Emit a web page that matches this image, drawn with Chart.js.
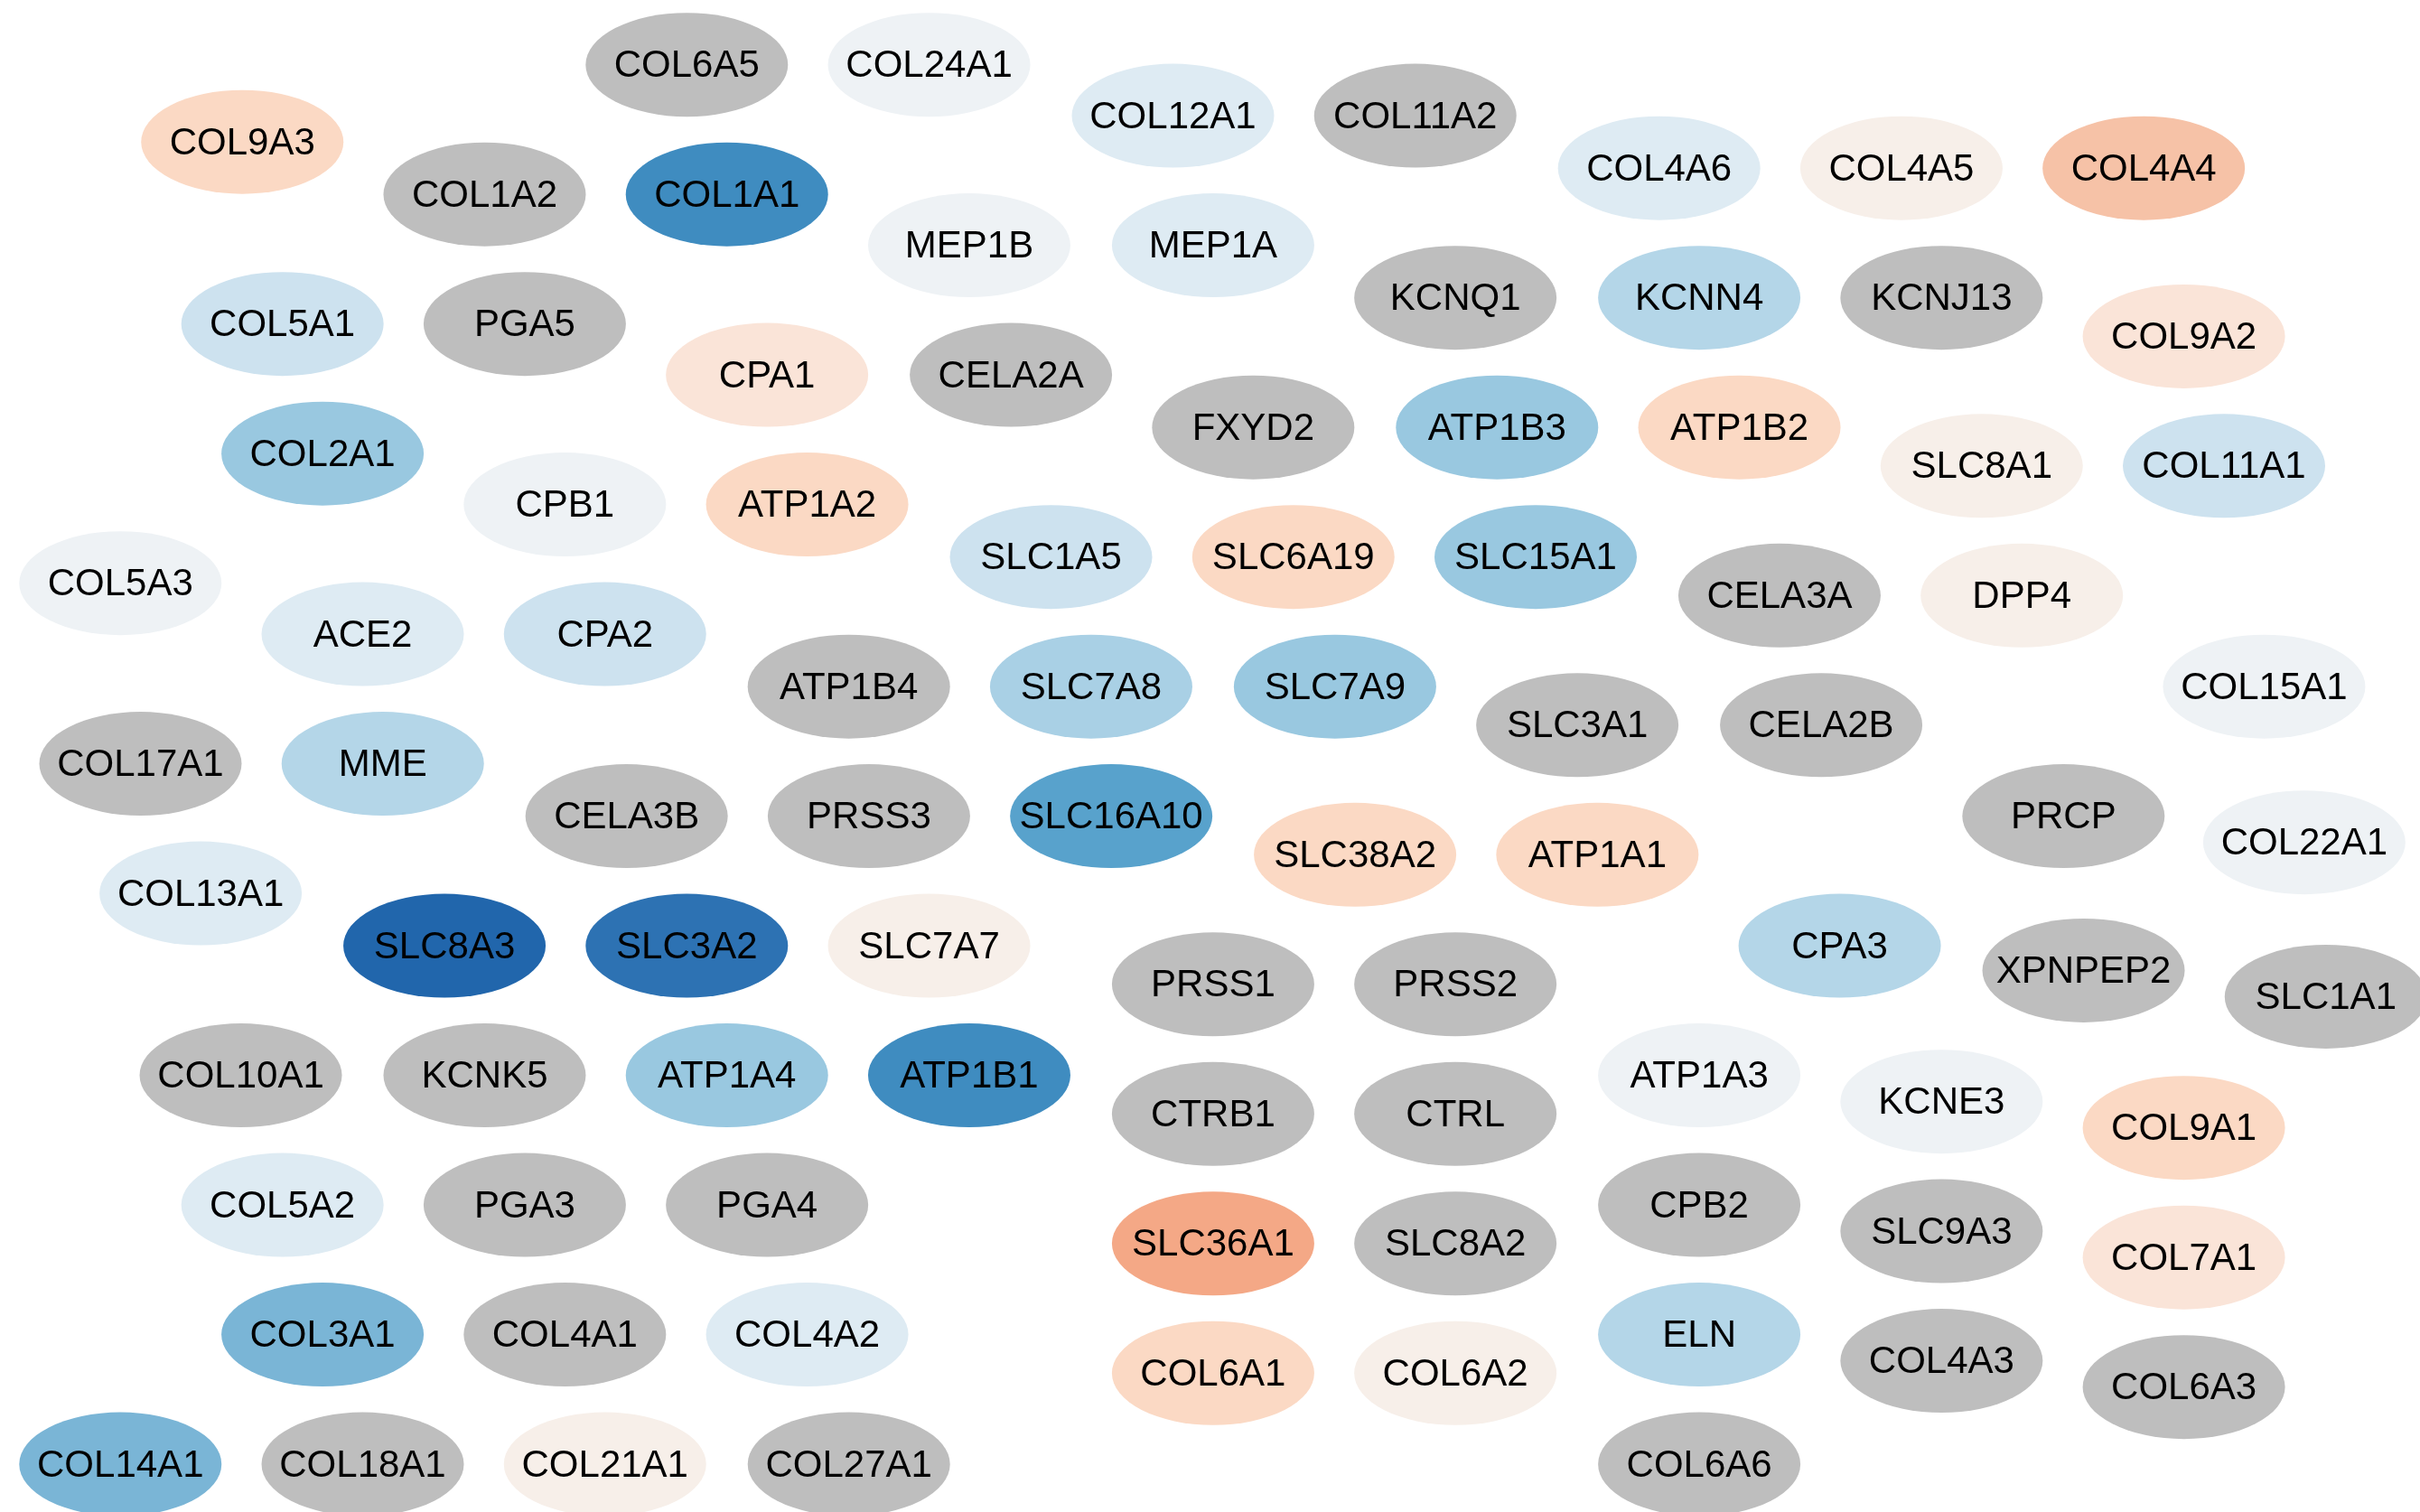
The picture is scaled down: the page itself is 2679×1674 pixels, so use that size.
<!DOCTYPE html>
<html>
<head>
<meta charset="utf-8">
<script src="https://cdn.jsdelivr.net/npm/chart.js@4"></script>
<style>
  html, body { margin: 0; padding: 0; background: #ffffff; }
  #wrap { position: relative; width: 2679px; height: 1674px; }
</style>
</head>
<body>
<div id="wrap"><canvas id="c"></canvas></div>
<script>
// ---- DATA ----
const genes = [
  "COL6A5","COL24A1","COL12A1","COL11A2","COL9A3","COL1A2","COL1A1","COL4A6","COL4A5","COL4A4",
  "MEP1B","MEP1A","KCNQ1","KCNN4","KCNJ13","COL9A2","COL5A1","PGA5","CPA1","CELA2A",
  "FXYD2","ATP1B3","ATP1B2","SLC8A1","COL11A1","COL2A1","CPB1","ATP1A2","SLC1A5","SLC6A19",
  "SLC15A1","CELA3A","DPP4","COL5A3","ACE2","CPA2","ATP1B4","SLC7A8","SLC7A9","SLC3A1",
  "CELA2B","COL15A1","COL17A1","MME","CELA3B","PRSS3","SLC16A10","SLC38A2","ATP1A1","PRCP",
  "COL22A1","COL13A1","SLC8A3","SLC3A2","SLC7A7","PRSS1","PRSS2","CPA3","XPNPEP2","SLC1A1",
  "COL10A1","KCNK5","ATP1A4","ATP1B1","ATP1A3","KCNE3","COL9A1","CTRB1","CTRL","COL5A2",
  "PGA3","PGA4","CPB2","SLC9A3","COL7A1","SLC36A1","SLC8A2","COL3A1","COL4A1","COL4A2",
  "ELN","COL4A3","COL6A3","COL6A1","COL6A2","COL14A1","COL18A1","COL21A1","COL27A1","COL6A6"
];
// layout coordinates (layout units)
const layoutX = [
  445, 602, 760, 917, 157, 314, 471, 1075, 1232, 1389,
  628, 786, 943, 1101, 1258, 1415, 183, 340, 497, 655,
  812, 970, 1127, 1284, 1441, 209, 366, 523, 681, 838,
  995, 1153, 1310, 78, 235, 392, 550, 707, 865, 1022,
  1180, 1467, 91, 248, 406, 563, 720, 878, 1035, 1337,
  1493, 130, 288, 445, 602, 786, 943, 1192, 1350, 1507,
  156, 314, 471, 628, 1101, 1258, 1415, 786, 943, 183,
  340, 497, 1101, 1258, 1415, 786, 943, 209, 366, 523,
  1101, 1258, 1415, 786, 943, 78, 235, 392, 550, 1101
];
const layoutY = [
  42, 42, 75, 75, 92, 126, 126, 109, 109, 109,
  159, 159, 193, 193, 193, 218, 210, 210, 243, 243,
  277, 277, 277, 302, 302, 294, 327, 327, 361, 361,
  361, 386, 386, 378, 411, 411, 445, 445, 445, 470,
  470, 445, 495, 495, 529, 529, 529, 554, 554, 529,
  546, 579, 613, 613, 613, 638, 638, 613, 629, 646,
  697, 697, 697, 697, 697, 714, 731, 722, 722, 781,
  781, 781, 781, 798, 815, 806, 806, 865, 865, 865,
  865, 882, 899, 890, 890, 949, 949, 949, 949, 949
];
// expression change score (null = not measured)
const score = [
  null, -0.05, -0.14, null, 0.25, null, -0.80, -0.14, 0.05, 0.40,
  -0.05, -0.14, null, -0.32, null, 0.15, -0.22, null, 0.15, null,
  null, -0.45, 0.25, 0.05, -0.22, -0.45, -0.05, 0.25, -0.22, 0.25,
  -0.45, null, 0.05, -0.05, -0.14, -0.22, null, -0.38, -0.45, null,
  null, -0.05, null, -0.32, null, null, -0.70, 0.25, 0.25, null,
  -0.05, -0.14, -1.00, -0.90, 0.05, null, null, -0.32, null, null,
  null, null, -0.45, -0.80, -0.05, -0.05, 0.25, null, null, -0.14,
  null, null, null, null, 0.15, 0.55, null, -0.55, null, -0.14,
  -0.32, null, null, 0.25, 0.05, -0.55, null, 0.05, null, null
];

// ---- colour scale (style) ----
const stops = [
  [-1.00, [0x21,0x66,0xac]], [-0.90, [0x2d,0x72,0xb3]], [-0.80, [0x3f,0x8c,0xc0]],
  [-0.70, [0x58,0xa2,0xcc]], [-0.55, [0x7a,0xb5,0xd6]], [-0.45, [0x99,0xc8,0xe0]],
  [-0.38, [0xa9,0xd0,0xe5]], [-0.32, [0xb4,0xd6,0xe8]], [-0.22, [0xcd,0xe2,0xef]],
  [-0.14, [0xde,0xeb,0xf3]], [-0.05, [0xee,0xf2,0xf5]], [0.05, [0xf7,0xef,0xe9]],
  [0.15, [0xfa,0xe4,0xd8]], [0.25, [0xfb,0xd9,0xc4]], [0.40, [0xf6,0xc2,0xa7]],
  [0.55, [0xf4,0xa8,0x86]]
];
function colorFor(v) {
  if (v === null) return '#bebebe';
  if (v <= stops[0][0]) return 'rgb(' + stops[0][1].join(',') + ')';
  for (let i = 1; i < stops.length; i++) {
    if (v <= stops[i][0]) {
      const [a, ca] = stops[i-1], [b, cb] = stops[i];
      const t = (v - a) / (b - a);
      const c = ca.map((x, k) => Math.round(x + (cb[k] - x) * t));
      return 'rgb(' + c.join(',') + ')';
    }
  }
  return 'rgb(' + stops[stops.length-1][1].join(',') + ')';
}

const nodePlugin = {
  id: 'nodes',
  afterDatasetsDraw(chart) {
    const ctx = chart.ctx;
    const meta = chart.getDatasetMeta(0);
    const ds = chart.data.datasets[0];
    ctx.save();
    ctx.font = '42px "Liberation Sans", Arial, Helvetica, sans-serif';
    ctx.textAlign = 'center';
    ctx.textBaseline = 'middle';
    meta.data.forEach((el, i) => {
      ctx.beginPath();
      ctx.ellipse(el.x, el.y, 112, 57.5, 0, 0, Math.PI * 2);
      ctx.fillStyle = ds.backgroundColor[i];
      ctx.fill();
      ctx.fillStyle = '#000000';
      ctx.fillText(genes[i], el.x, el.y + 2);
    });
    ctx.restore();
  }
};

new Chart(document.getElementById('c'), {
  type: 'scatter',
  data: {
    labels: genes,
    datasets: [{
      data: genes.map((g, i) => ({ x: layoutX[i], y: layoutY[i] })),
      backgroundColor: score.map(colorFor),
      pointRadius: 0,
      pointHoverRadius: 0
    }]
  },
  options: {
    responsive: true,
    maintainAspectRatio: false,
    animation: false,
    layout: { padding: 0 },
    plugins: { legend: { display: false }, tooltip: { enabled: false } },
    scales: {
      x: { type: 'linear', min: 0, max: 1568, display: false },
      y: { type: 'linear', min: 0, max: 980, reverse: true, display: false }
    }
  },
  plugins: [nodePlugin]
});
</script>
</body>
</html>
